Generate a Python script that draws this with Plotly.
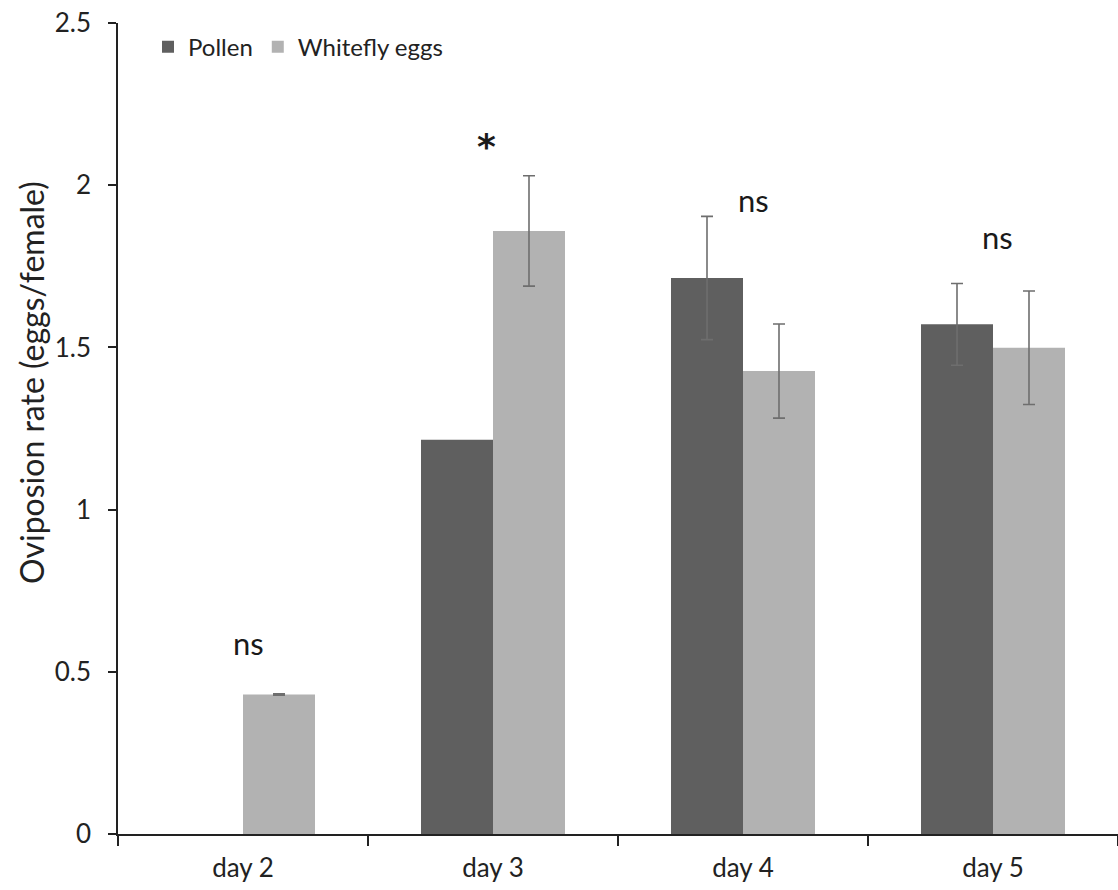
import plotly.graph_objects as go

categories = ["day 2", "day 3", "day 4", "day 5"]
pollen = [None, 1.215, 1.714, 1.571]
pollen_err = [None, None, 0.19, 0.126]
whitefly = [0.43, 1.859, 1.427, 1.499]
whitefly_err = [0.002, 0.17, 0.145, 0.175]
sig_labels = ["ns", "*", "ns", "ns"]
sig_y = [0.59, 2.12, 1.955, 1.84]
sig_shift = [5, -7, 10, 4]

FONT = "Lato"
ERR = dict(type="data", color="#6e6e6e", thickness=1.6, width=6)

fig = go.Figure()
# Pollen bars that carry an error bar
idx_e = [i for i, e in enumerate(pollen_err) if e is not None and pollen[i] is not None]
idx_n = [i for i, e in enumerate(pollen_err) if e is None and pollen[i] is not None]
fig.add_trace(go.Bar(
    name="Pollen", x=[categories[i] for i in idx_e], y=[pollen[i] for i in idx_e],
    offsetgroup="pollen", legendgroup="pollen",
    marker=dict(color="#5f5f5f", line=dict(width=0)),
    error_y=dict(array=[pollen_err[i] for i in idx_e], **ERR),
))
# Pollen bars without an error bar
fig.add_trace(go.Bar(
    name="Pollen", x=[categories[i] for i in idx_n], y=[pollen[i] for i in idx_n],
    offsetgroup="pollen", legendgroup="pollen", showlegend=False,
    marker=dict(color="#5f5f5f", line=dict(width=0)),
))
fig.add_trace(go.Bar(
    name="Whitefly eggs", x=categories, y=whitefly, offsetgroup="whitefly",
    marker=dict(color="#b2b2b2", line=dict(width=0)),
    error_y=dict(array=whitefly_err, **ERR),
))

for c, lab, yv, sh in zip(categories, sig_labels, sig_y, sig_shift):
    if lab == "*":
        f = dict(family="DejaVu Sans", size=36, color="#1a1a1a")
        txt = "<b>*</b>"
    else:
        f = dict(family=FONT, size=31, color="#1a1a1a")
        txt = lab
    fig.add_annotation(x=c, y=yv, text=txt, showarrow=False, xshift=sh, font=f)

fig.add_annotation(xref="paper", yref="paper", x=-0.087, y=0.556, xanchor="center", yanchor="middle",
                   text="Oviposion rate (eggs/female)",
                   textangle=-90, showarrow=False, font=dict(family=FONT, size=32, color="#222"))

fig.update_layout(
    width=1118, height=890,
    margin=dict(l=118, r=0, t=23, b=56),
    plot_bgcolor="white", paper_bgcolor="white",
    barmode="group", bargap=0.424, bargroupgap=0,
    font=dict(family=FONT, size=24, color="#222"),
    showlegend=True,
    legend=dict(orientation="h", x=0.03, y=0.998, xanchor="left", yanchor="top",
                font=dict(family=FONT, size=24, color="#222"), itemwidth=30,
                bgcolor="rgba(0,0,0,0)", traceorder="normal"),
    xaxis=dict(categoryorder="array", categoryarray=categories,
               showline=True, linecolor="#222", linewidth=1.5, ticks="outside",
               tickson="boundaries", ticklen=10, tickcolor="#222", tickwidth=1.5,
               ticklabelstandoff=10,
               showgrid=False, tickfont=dict(family=FONT, size=26, color="#222")),
    yaxis=dict(range=[0, 2.5], dtick=0.5, showline=True, linecolor="#222", linewidth=1.5,
               ticks="outside", ticklen=8, tickcolor="#222", tickwidth=1.5,
               ticklabelstandoff=12,
               showgrid=False, zeroline=False, tickformat="~g",
               tickfont=dict(family=FONT, size=26, color="#222")),
)

fig.write_html("out.html")
